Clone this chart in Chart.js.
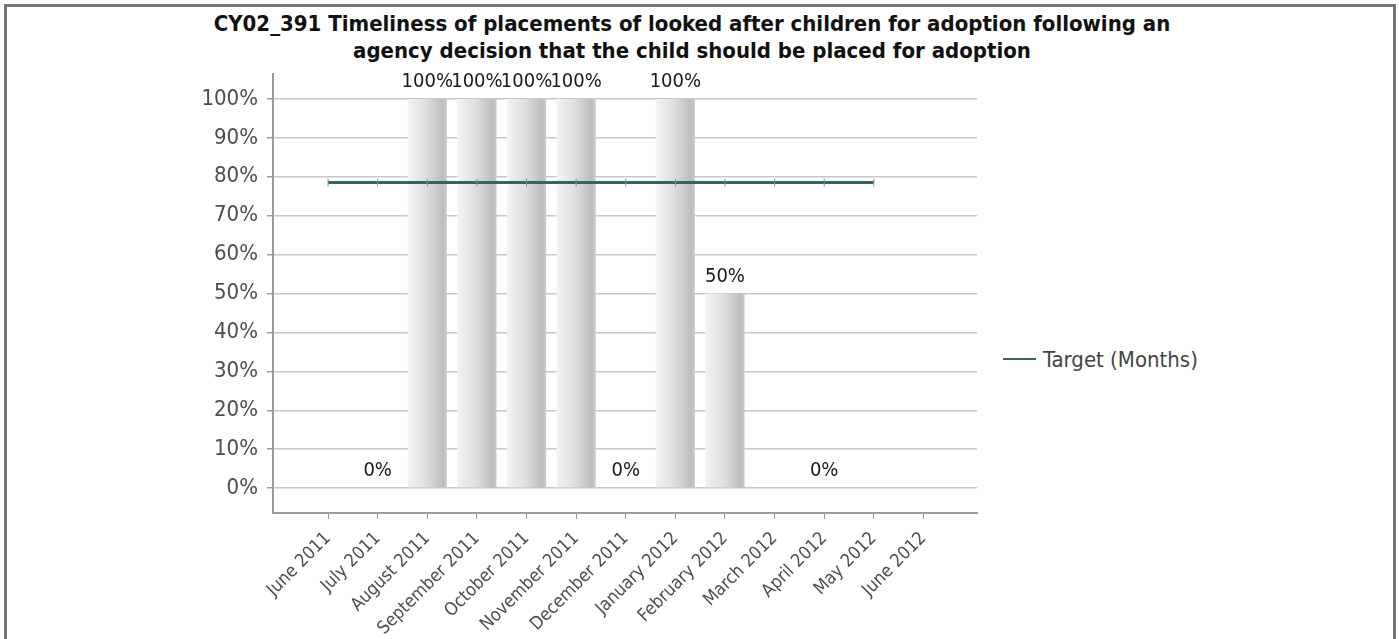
<!DOCTYPE html>
<html>
<head>
<meta charset="utf-8">
<title>CY02_391</title>
<script src="https://cdn.jsdelivr.net/npm/chart.js@4.4.1/dist/chart.umd.min.js"></script>
<style>
    body { margin: 0; background: #fff; overflow: hidden; font-family: 'DejaVu Sans Condensed', 'DejaVu Sans', sans-serif; }
    #frame { position: absolute; left: 4px; top: 4px; width: 1386px; height: 700px; border: 3px solid #78786e; }
    #title { position: absolute; left: -8px; top: 3px; width: 1386px; text-align: center; font-weight: bold; font-size: 22px; line-height: 27px; color: #111; }
    #chartBox { position: absolute; left: 0; top: 0; width: 990px; height: 632px; }
    #legend { position: absolute; left: 996px; top: 340px; height: 24px; display: flex; align-items: center; font-size: 22px; color: #444; }
    #legend .swatch { width: 33px; height: 2px; background: #3c6464; margin-right: 7px; }
</style>
</head>
<body>
<div id="frame">
    <div id="title">CY02_391 Timeliness of placements of looked after children for adoption following an<br>agency decision that the child should be placed for adoption</div>
    <div id="chartBox"><canvas id="barChart"></canvas></div>
    <div id="legend"><span class="swatch"></span><span>Target (Months)</span></div>
</div>
<script>
const months = ['June 2011', 'July 2011', 'August 2011', 'September 2011', 'October 2011', 'November 2011',
    'December 2011', 'January 2012', 'February 2012', 'March 2012', 'April 2012', 'May 2012', 'June 2012'];
const placedPct = [null, 0, 100, 100, 100, 100, 0, 100, 50, null, 0, null, null];
const targetPct = [78.5, 78.5, 78.5, 78.5, 78.5, 78.5, 78.5, 78.5, 78.5, 78.5, 78.5, 78.5, null];
const yTicks = [0, 10, 20, 30, 40, 50, 60, 70, 80, 90, 100];

const barShare = 0.79;
const fontFamily = "'DejaVu Sans Condensed', 'DejaVu Sans', sans-serif";
Chart.defaults.font.family = fontFamily;

// value labels above the bars
const valueLabels = {
    id: 'valueLabels',
    afterDatasetsDraw(chart) {
        const meta = chart.getDatasetMeta(1);
        const ctx = chart.ctx;
        ctx.save();
        ctx.font = '20px ' + fontFamily;
        ctx.fillStyle = '#1a1a1a';
        ctx.textAlign = 'center';
        ctx.textBaseline = 'middle';
        meta.data.forEach((bar, i) => {
            if (placedPct[i] === null) return;
            ctx.fillText(placedPct[i] + '%', bar.x, bar.y - 17);
        });
        ctx.restore();
    }
};

function barGradient(context) {
    const chart = context.chart;
    const xs = chart.scales.x;
    if (!xs || context.type !== 'data') return '#dddddd';
    const step = xs.getPixelForValue(1) - xs.getPixelForValue(0);
    const cx = xs.getPixelForValue(context.dataIndex);
    if (!isFinite(step) || !isFinite(cx)) return '#dddddd';
    const half = step * barShare / 2;
    const g = chart.ctx.createLinearGradient(cx - half, 0, cx + half, 0);
    g.addColorStop(0, '#f3f3f3');
    g.addColorStop(0.45, '#e0e0e0');
    g.addColorStop(0.9, '#bdbdbd');
    g.addColorStop(1, '#cbcbcb');
    return g;
}

const ctx = document.getElementById('barChart').getContext('2d');
new Chart(ctx, {
    type: 'bar',
    data: {
        datasets: [{
            type: 'line',
            label: 'Target (Months)',
            data: targetPct.map((v, i) => ({ x: i, y: v })),
            borderColor: '#3a6262',
            borderWidth: 3,
            pointStyle: 'line',
            rotation: 90,
            pointRadius: 4,
            pointBorderColor: '#7b9292',
            pointBorderWidth: 1,
            order: 0
        }, {
            label: 'Placed',
            data: placedPct.map((v, i) => ({ x: i, y: v })),
            backgroundColor: barGradient,
            borderWidth: 0,
            barPercentage: barShare,
            categoryPercentage: 1,
            order: 1
        }]
    },
    options: {
        responsive: true,
        maintainAspectRatio: false,
        animation: false,
        layout: { padding: { top: 67, right: 20, left: 0, bottom: 0 } },
        plugins: {
            legend: { display: false },
            tooltip: { enabled: false }
        },
        scales: {
            x: {
                type: 'linear',
                min: -1.11,
                max: 13.08,
                offset: false,
                afterBuildTicks: scale => { scale.ticks = months.map((m, i) => ({ value: i })); },
                afterFit: scale => { scale.height = 126; },
                ticks: {
                    autoSkip: false,
                    maxRotation: 45,
                    minRotation: 45,
                    padding: 9,
                    color: '#4d4d4d',
                    font: { size: 18 },
                    callback: value => months[value]
                },
                grid: { offset: false, drawOnChartArea: false, tickLength: 6, tickColor: '#9a9a9a' },
                border: { color: '#9a9a9a', width: 2 }
            },
            y: {
                min: -6.4,
                max: 106.4,
                afterBuildTicks: scale => { scale.ticks = yTicks.map(v => ({ value: v })); },
                afterFit: scale => { scale.width = 266; },
                ticks: {
                    color: '#4d4d4d',
                    padding: 9,
                    font: { size: 22 },
                    callback: value => value + '%'
                },
                grid: { color: '#c8c8c8', lineWidth: 1.5, tickLength: 6, tickColor: '#9a9a9a' },
                border: { color: '#9a9a9a', width: 2 }
            }
        }
    },
    plugins: [valueLabels]
});
</script>
</body>
</html>
